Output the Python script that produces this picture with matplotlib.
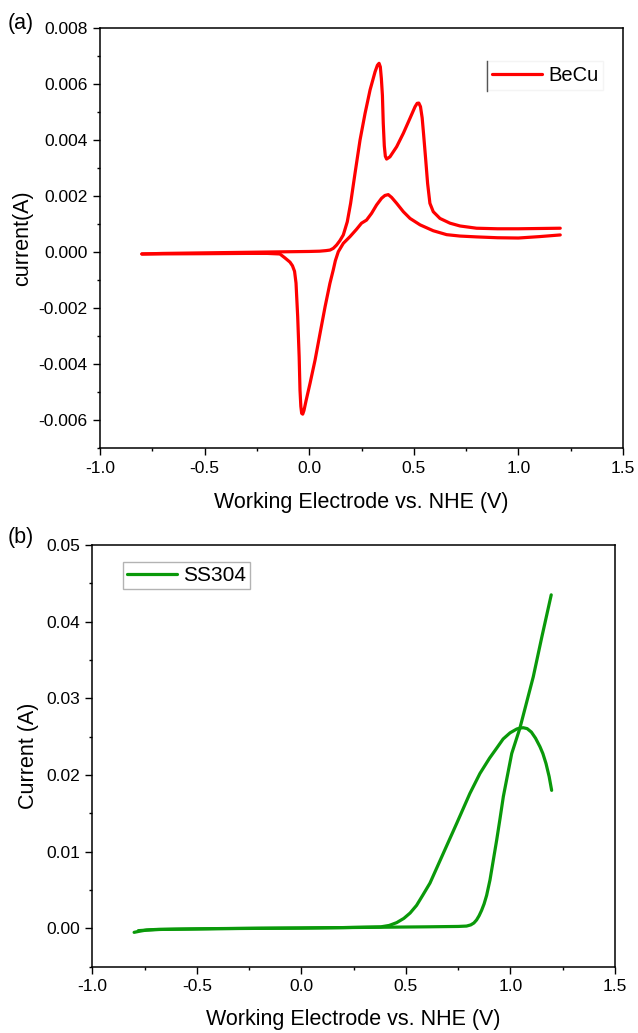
import matplotlib
matplotlib.use("Agg")
import matplotlib.pyplot as plt
from matplotlib.lines import Line2D
from matplotlib.ticker import MultipleLocator, FormatStrFormatter

plt.rcParams['font.family'] = ['Liberation Sans', 'DejaVu Sans']
plt.rcParams['axes.unicode_minus'] = False

# ---------------- data: BeCu (panel a) ----------------
becu_fwd_v = [-0.80, -0.70, -0.50, -0.30, -0.10, 0.00, 0.05, 0.08, 0.0995, 0.115, 0.131, 0.147,
              0.163, 0.182, 0.198, 0.219, 0.243, 0.267, 0.291, 0.315, 0.326, 0.334, 0.340,
              0.345, 0.350, 0.354, 0.359, 0.364, 0.370, 0.386, 0.418, 0.450, 0.482, 0.506,
              0.516, 0.524, 0.532, 0.540, 0.547, 0.557, 0.566, 0.577, 0.593, 0.625, 0.673,
              0.721, 0.80, 0.90, 1.00, 1.10, 1.20]
becu_fwd_i = [-0.00006, -0.00004, -0.00002, 0.0, 0.00002, 0.00003, 0.00004, 0.00006, 0.00008,
              0.00014, 0.00026, 0.00042, 0.00062, 0.00109, 0.00175, 0.00282, 0.00401, 0.00496,
              0.00580, 0.00645, 0.00668, 0.00675, 0.00662, 0.00620, 0.00560, 0.00461, 0.00380,
              0.00343, 0.00333, 0.00341, 0.00377, 0.00425, 0.00479, 0.00520, 0.00532, 0.00533,
              0.00520, 0.00480, 0.00420, 0.00330, 0.00246, 0.00175, 0.00145, 0.00121, 0.00104,
              0.00094, 0.00086, 0.00084, 0.00084, 0.00085, 0.00086]

becu_rev_v = [1.20, 1.10, 1.00, 0.90, 0.80, 0.721, 0.657, 0.593, 0.530, 0.482, 0.450, 0.418,
              0.394, 0.378, 0.362, 0.346, 0.322, 0.298, 0.274, 0.250, 0.226, 0.195, 0.163,
              0.139, 0.125, 0.115, 0.099, 0.076, 0.052, 0.028, 0.004, -0.015, -0.025, -0.031,
              -0.036, -0.040, -0.044, -0.048, -0.055, -0.063, -0.070, -0.080, -0.092, -0.116,
              -0.140, -0.20, -0.30, -0.50, -0.80]
becu_rev_i = [0.00062, 0.00056, 0.00051, 0.00052, 0.00055, 0.00058, 0.00063, 0.00077, 0.00098,
              0.00121, 0.00145, 0.00175, 0.00196, 0.00206, 0.00203, 0.00193, 0.00169, 0.00139,
              0.00115, 0.00104, 0.00082, 0.00056, 0.00032, 0.00002, -0.00030, -0.00063,
              -0.00111, -0.00194, -0.00289, -0.00385, -0.00468, -0.00530, -0.00565, -0.00578,
              -0.00575, -0.00550, -0.00492, -0.00373, -0.00230, -0.00110, -0.00068, -0.00048,
              -0.00035, -0.00020, -0.00006, -0.00004, -0.00004, -0.00005, -0.00006]

# ---------------- data: SS304 (panel b) ----------------
ss_fwd_v = [-0.80, -0.77, -0.74, -0.68, -0.60, -0.40, -0.20, 0.00, 0.20, 0.40, 0.60, 0.75,
            0.790, 0.810, 0.825, 0.838, 0.850, 0.862, 0.874, 0.886, 0.902, 0.918, 0.934,
            0.950, 0.966, 0.986, 1.006, 1.045, 1.109, 1.150, 1.195]
ss_fwd_i = [-0.00052, -0.00035, -0.00022, -0.00014, -0.00010, -0.00003, 0.00002, 0.00005,
            0.00010, 0.00015, 0.00020, 0.00025, 0.00030, 0.00045, 0.00070, 0.00110, 0.00165,
            0.00235, 0.00320, 0.00430, 0.00630, 0.00890, 0.01150, 0.01430, 0.01720, 0.02000,
            0.02280, 0.02610, 0.03280, 0.03800, 0.04350]

ss_rev_v = [1.197, 1.185, 1.170, 1.155, 1.141, 1.120, 1.100, 1.080, 1.061, 1.045, 1.030,
            0.998, 0.965, 0.934, 0.900, 0.854, 0.806, 0.743, 0.679, 0.615, 0.580, 0.551,
            0.520, 0.490, 0.456, 0.420, 0.380, 0.200, 0.000, -0.400, -0.700, -0.780]
ss_rev_i = [0.01800, 0.01980, 0.02150, 0.02280, 0.02370, 0.02480, 0.02560, 0.02605, 0.02617,
            0.02612, 0.02600, 0.02550, 0.02470, 0.02350, 0.02220, 0.02020, 0.01760, 0.01370,
            0.00980, 0.00590, 0.00430, 0.00300, 0.00200, 0.00130, 0.00075, 0.00038, 0.00020,
            0.00010, 0.00004, -0.00004, -0.00015, -0.00030]

xticks = [-1.0, -0.5, 0.0, 0.5, 1.0, 1.5]
xlabel = "Working Electrode vs. NHE (V)"

RED = '#ff0000'
GREEN = '#0a990a'
LW = 2.3
TICK_FS = 12.5
LABEL_FS = 15.5

fig = plt.figure(figsize=(6.38, 10.33), dpi=100)
W, H = 638.0, 1033.0

def axes_px(left, top, right, bottom):
    return fig.add_axes([left / W, 1 - bottom / H, (right - left) / W, (bottom - top) / H])

ax1 = axes_px(100, 28.3, 623, 448.3)
ax2 = axes_px(92.3, 545, 615, 966.7)

for ax in (ax1, ax2):
    for sp in ax.spines.values():
        sp.set_linewidth(1.1)
        sp.set_color('black')
    ax.tick_params(which='major', direction='out', length=5, width=1.0,
                   labelsize=TICK_FS, pad=4, top=False, right=False)
    ax.tick_params(which='minor', direction='out', length=2.5, width=1.0,
                   top=False, right=False)
    ax.set_xlim(-1.0, 1.5)
    ax.set_xticks(xticks)
    ax.xaxis.set_minor_locator(MultipleLocator(0.25))
    ax.xaxis.set_major_formatter(FormatStrFormatter('%.1f'))
    ax.set_xlabel(xlabel, fontsize=LABEL_FS)

# panel a
ax1.plot(becu_fwd_v, becu_fwd_i, color=RED, lw=LW, solid_joinstyle='round',
         solid_capstyle='round', label='BeCu')
ax1.plot(becu_rev_v, becu_rev_i, color=RED, lw=LW, solid_joinstyle='round',
         solid_capstyle='round')
ax1.set_ylim(-0.007, 0.008)
ax1.yaxis.set_major_locator(MultipleLocator(0.002))
ax1.yaxis.set_minor_locator(MultipleLocator(0.001))
ax1.yaxis.set_major_formatter(FormatStrFormatter('%.3f'))
ax1.set_ylabel('current(A)', fontsize=LABEL_FS)
ax1.yaxis.set_label_coords(-0.148, 0.5)
ax1.xaxis.set_label_coords(0.5, -0.128)
ax1.xaxis.label.set_verticalalignment('center')
ax1.yaxis.label.set_verticalalignment('center')

leg1 = ax1.legend(loc='upper left', bbox_to_anchor=(0.739, 0.923), fontsize=14.5,
                  frameon=True, fancybox=False, borderpad=0.25, handlelength=2.5,
                  handletextpad=0.3, borderaxespad=0)
leg1.get_frame().set_edgecolor('#f2f2f2')
leg1.get_frame().set_linewidth(1.0)
fig.add_artist(Line2D([486.7 / W, 486.7 / W], [1 - 60.7 / H, 1 - 90.7 / H],
                      color='#555555', lw=1.0, transform=fig.transFigure))

# panel b
ax2.plot(ss_fwd_v, ss_fwd_i, color=GREEN, lw=LW, solid_joinstyle='round',
         solid_capstyle='round', label='SS304')
ax2.plot(ss_rev_v, ss_rev_i, color=GREEN, lw=LW, solid_joinstyle='round',
         solid_capstyle='round')
ax2.set_ylim(-0.005, 0.05)
ax2.yaxis.set_major_locator(MultipleLocator(0.01))
ax2.yaxis.set_minor_locator(MultipleLocator(0.005))
ax2.yaxis.set_major_formatter(FormatStrFormatter('%.2f'))
ax2.set_ylabel('Current (A)', fontsize=LABEL_FS)
ax2.yaxis.set_label_coords(-0.122, 0.5)
ax2.xaxis.set_label_coords(0.5, -0.126)
ax2.xaxis.label.set_verticalalignment('center')
ax2.yaxis.label.set_verticalalignment('center')

leg2 = ax2.legend(loc='upper left', bbox_to_anchor=(0.058, 0.960), fontsize=15,
                  frameon=True, fancybox=False, borderpad=0.2, handlelength=2.4,
                  handletextpad=0.3, borderaxespad=0)
leg2.get_frame().set_edgecolor('#a0a0a0')
leg2.get_frame().set_linewidth(1.0)

fig.text(21 / W, 1 - 23 / H, '(a)', fontsize=LABEL_FS, ha='center', va='center')
fig.text(21 / W, 1 - 538 / H, '(b)', fontsize=LABEL_FS, ha='center', va='center')

fig.savefig('out.png', dpi=100, facecolor='white')
